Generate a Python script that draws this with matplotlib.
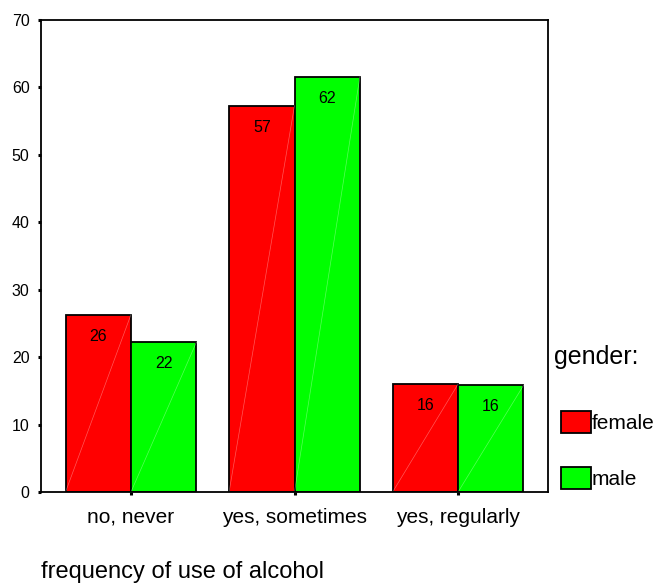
import matplotlib.pyplot as plt
import numpy as np

plt.rcParams['font.family'] = ['Liberation Sans', 'DejaVu Sans']

categories = ['no, never', 'yes, sometimes', 'yes, regularly']
female = [26.3, 57.3, 16.0]
male = [22.2, 61.6, 15.8]
female_labels = ['26', '57', '16']
male_labels = ['22', '62', '16']

fig = plt.figure(figsize=(6.64, 5.88), dpi=100)
ax = fig.add_axes([41/664, 1-492/588, 507/664, 472/588])

x = np.arange(len(categories))
w = 0.4
series = [(female, female_labels, '#ff0000', 'female', -w/2),
          (male, male_labels, '#00ff00', 'male', w/2)]
for vals, labs, col, name, off in series:
    bars = ax.bar(x + off, vals, w, color=col, edgecolor='black', linewidth=1.3, label=name)
    for b, lab in zip(bars, labs):
        x0, x1 = b.get_x(), b.get_x() + b.get_width()
        h = b.get_height()
        ax.plot([x0, x1], [0, h], color='white', lw=0.5, alpha=0.35)
        ax.annotate(lab, (b.get_x() + b.get_width()/2, h), xytext=(0, -10),
                    textcoords='offset points', ha='center', va='top', fontsize=11.5)

ax.set_xlim(-0.55, 2.55)
ax.set_ylim(0, 70)
ax.set_yticks(range(0, 71, 10))
ax.set_xticks(x)
ax.set_xticklabels(categories, fontsize=15)
ax.tick_params(axis='y', length=2.2, width=2.2, pad=6, labelsize=11.5)
ax.tick_params(axis='x', length=2.2, width=2.2, pad=9)
for s in ax.spines.values():
    s.set_linewidth(1.3)

fig.text(41/664, 1-572/588, 'frequency of use of alcohol', fontsize=17, va='center', ha='left')
fig.text(554/664, 1-357/588, 'gender:', fontsize=18, va='center', ha='left')
leg = fig.legend(loc='upper left', bbox_to_anchor=(561/664, 1-411/588), frameon=False,
                 fontsize=15, labelspacing=1.65, handlelength=1.44, handleheight=1.25,
                 handletextpad=0.05, borderaxespad=0, borderpad=0)
for p in leg.get_patches():
    p.set_linewidth(1.3)
plt.savefig('out.png')
